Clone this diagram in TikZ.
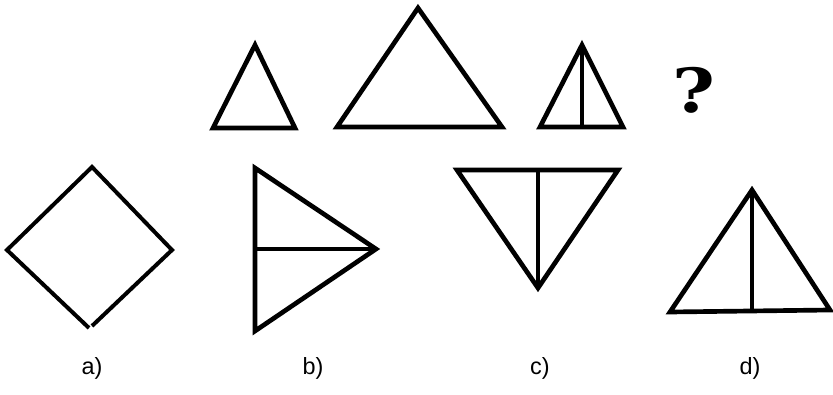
\documentclass[tikz,border=0pt]{standalone}
\usepackage{fontspec}
\setmainfont{Liberation Sans}
\newfontfamily\qmarkfont{DejaVu Serif}
\usetikzlibrary{positioning}
\definecolor{ink}{HTML}{000000}
\tikzset{
  outline/.style={draw=ink,line width=0.14cm,line join=miter},
  thinline/.style={draw=ink,line width=0.12cm},
  caption/.style={font=\fontsize{20}{22}\selectfont,text=ink,inner sep=0pt},
  puzzle/.style={font=\qmarkfont\bfseries\fontsize{52}{52}\selectfont,text=ink,inner sep=0pt,xscale=1.2}
}
\begin{document}
\begin{tikzpicture}[x=0.03cm,y=-0.03cm]
    \useasboundingbox (0,0) rectangle (833,395);

    % top row
    \draw[outline] (255,45) -- (213,128) -- (295,128) -- cycle;
    \draw[outline] (418,8) -- (337,127) -- (502,127) -- cycle;
    \draw[outline] (582,45) -- (540,127) -- (623,127) -- cycle;
    \draw[outline] (582,45) -- (582,127);
    \node[puzzle] (qmark) at (694,90) {?};

    % answer a)
    \draw[thinline] (89,328) -- (7,250) -- (92,167) -- (172,250) -- (92,326);

    % answer b)
    \draw[outline] (255,168) -- (376,249) -- (255,331) -- cycle;
    \draw[outline] (255,249) -- (376,249);

    % answer c)
    \draw[outline] (457,170) -- (618,170) -- (538,288) -- cycle;
    \draw[outline] (538,170) -- (538,288);

    % answer d)
    \draw[outline] (752,190) -- (670,312) -- (830,310) -- cycle;
    \draw[outline] (752,190) -- (752,311);

    \node[caption] (capa) at (92,368) {a)};
    \node[caption] (capb) at (313,368) {b)};
    \node[caption] (capc) at (540,368) {c)};
    \node[caption] (capd) at (750,368) {d)};
\end{tikzpicture}
\end{document}
